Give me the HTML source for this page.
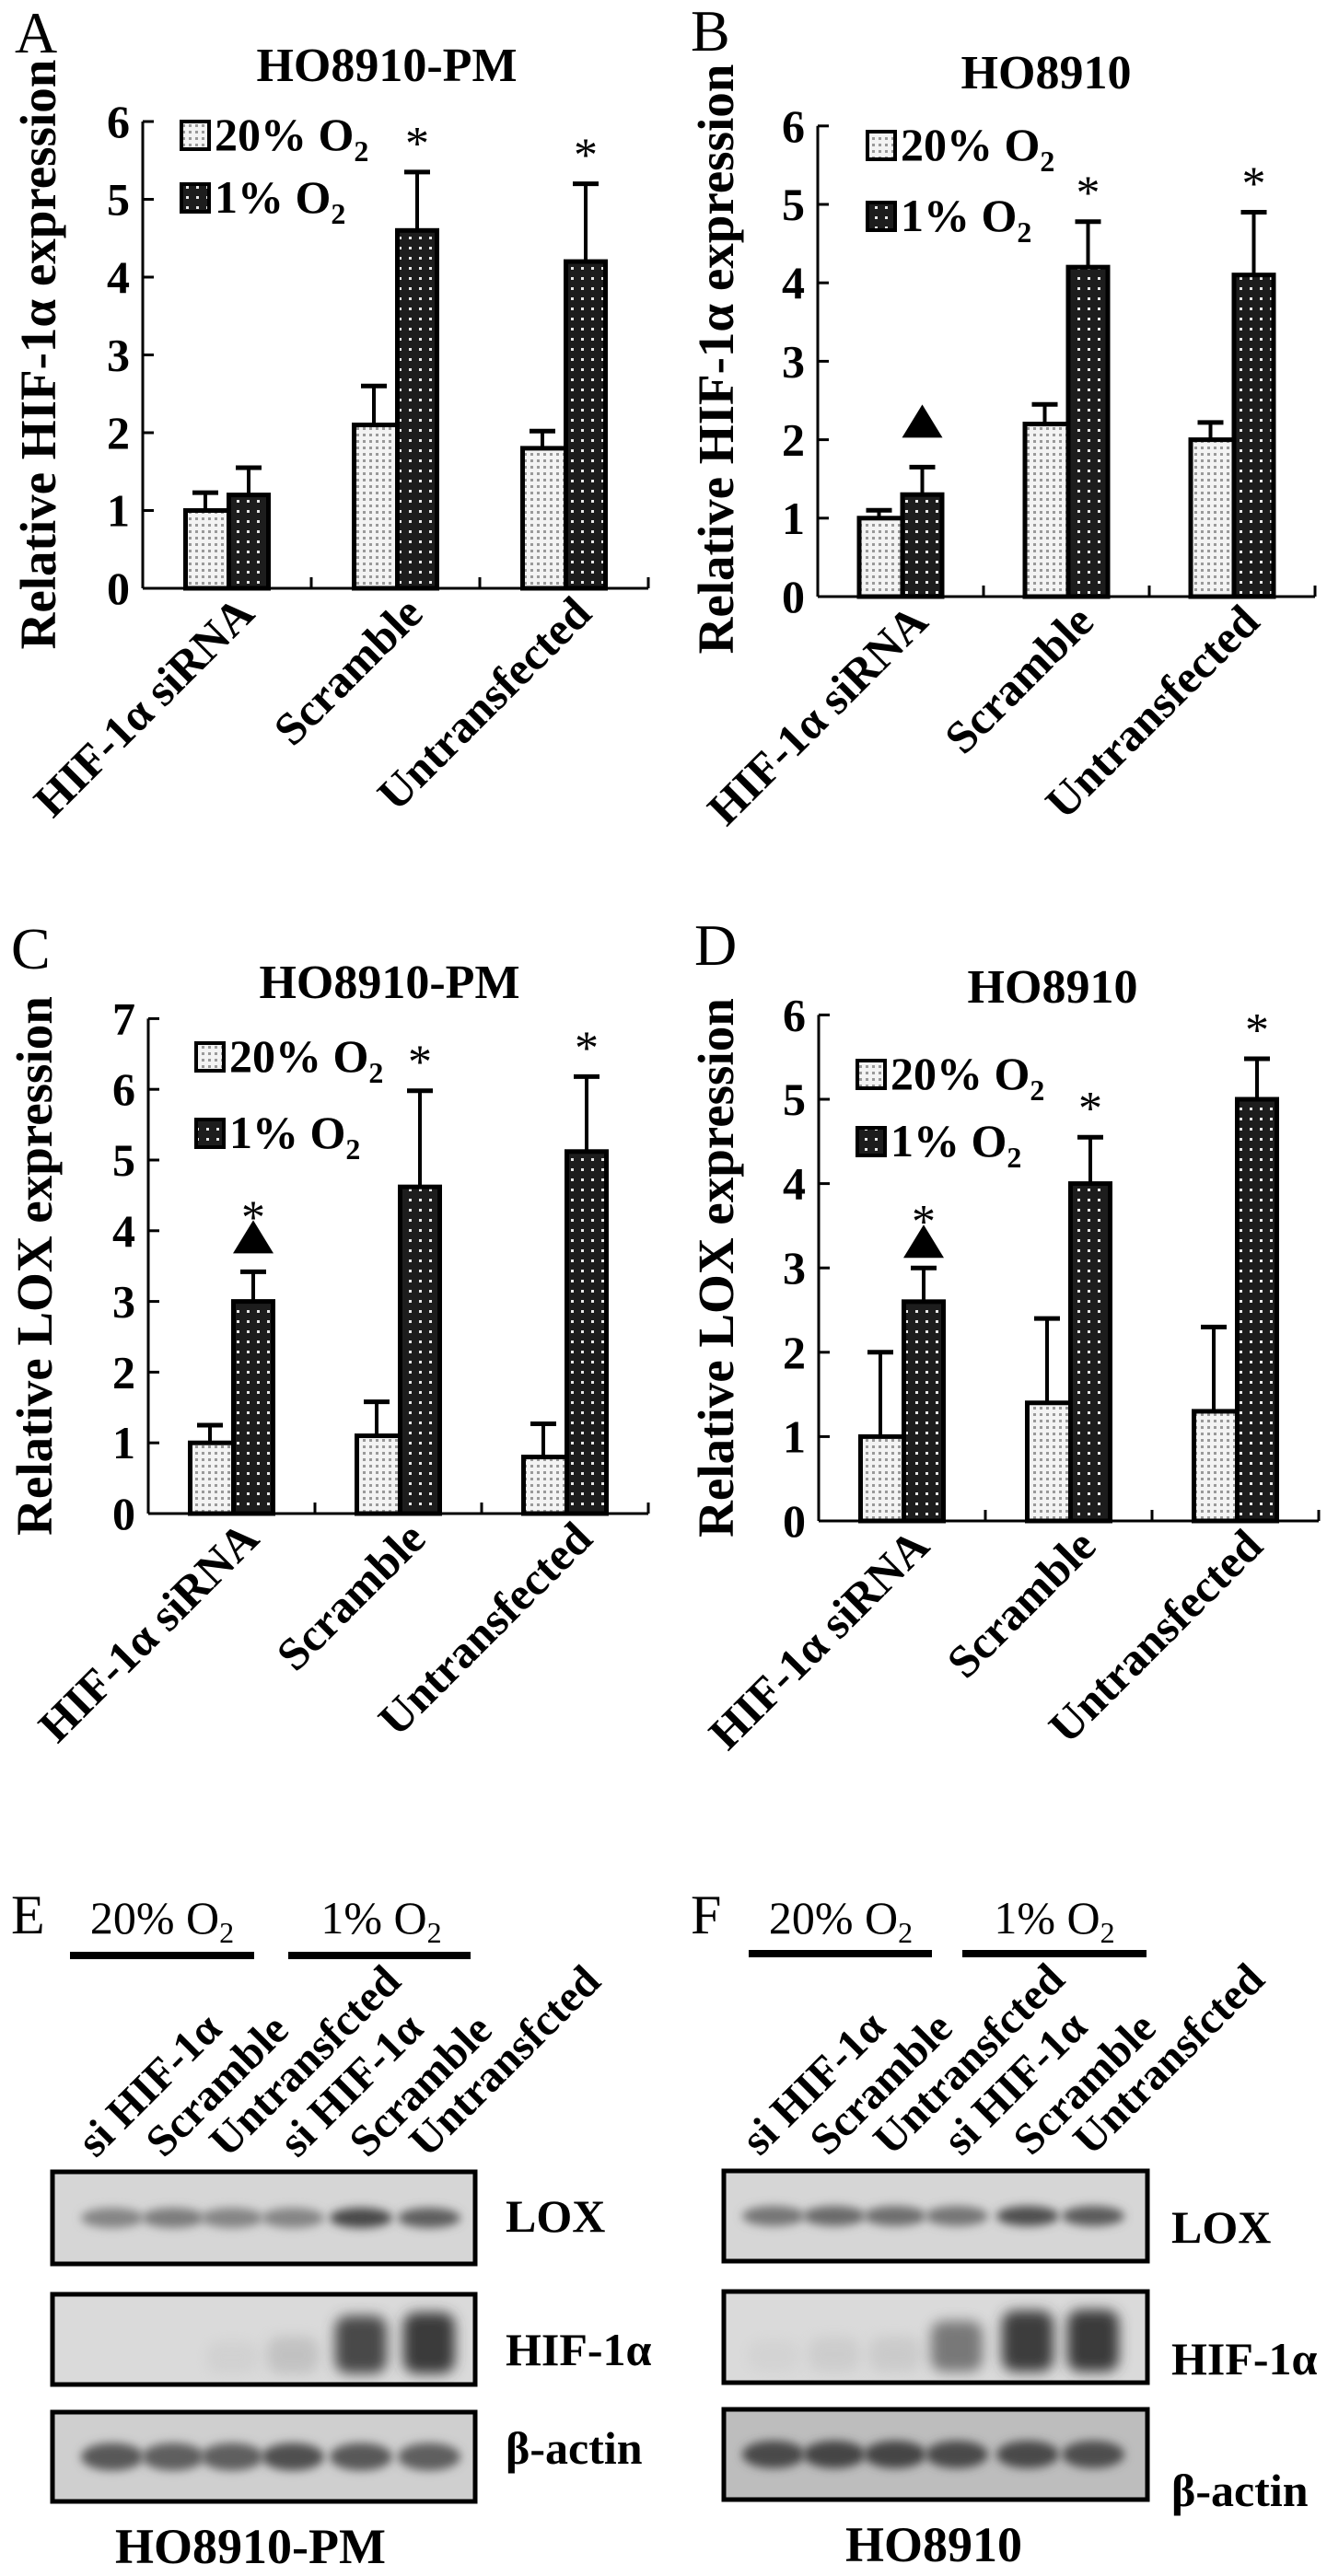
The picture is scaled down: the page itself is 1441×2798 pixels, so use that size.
<!DOCTYPE html>
<html><head><meta charset="utf-8"><title>HIF-1α / LOX figure</title>
<style>
html,body{margin:0;padding:0;background:#fff;}
svg{display:block;font-family:"Liberation Serif","DejaVu Serif",serif;}
text{font-family:"Liberation Serif","DejaVu Serif",serif;fill:#000;}
.b{font-weight:bold !important;}
</style></head>
<body>
<svg id="fig" width="1441" height="2798" viewBox="0 0 1441 2798" xmlns="http://www.w3.org/2000/svg" font-family="Liberation Serif, serif">
<defs>
<pattern id="pl" width="7" height="7" patternUnits="userSpaceOnUse"><rect width="7" height="7" fill="#f3f3f3"/><rect x="2" y="2" width="3" height="3" fill="#999"/></pattern>
<pattern id="pd" width="11" height="11" patternUnits="userSpaceOnUse"><rect width="11" height="11" fill="#1d1d1d"/><rect x="4" y="4" width="3" height="3" fill="#e6e6e6"/></pattern>
<filter id="bl" x="-30%" y="-100%" width="160%" height="300%"><feGaussianBlur stdDeviation="5"/></filter>
<filter id="bl2" x="-30%" y="-50%" width="160%" height="200%"><feGaussianBlur stdDeviation="7"/></filter>
</defs>
<rect width="1441" height="2798" fill="#fff"/>

<text x="16" y="57" font-size="64">A</text>
<text x="750" y="55" font-size="64">B</text>
<text x="12" y="1052" font-size="64">C</text>
<text x="754" y="1048" font-size="64">D</text>
<text x="12" y="2100" font-size="60">E</text>
<text x="750" y="2100" font-size="60">F</text>

<text class="b" x="420" y="88" font-size="52" text-anchor="middle">HO8910-PM</text>
<text class="b" x="1136" y="96" font-size="52" text-anchor="middle">HO8910</text>
<text class="b" x="423" y="1084" font-size="52" text-anchor="middle">HO8910-PM</text>
<text class="b" x="1143" y="1089" font-size="52" text-anchor="middle">HO8910</text>

<text class="b" font-size="55" text-anchor="middle" transform="translate(60,385) rotate(-90)">Relative  HIF-1α expression</text>
<text class="b" font-size="55" text-anchor="middle" transform="translate(796,390) rotate(-90)">Relative HIF-1α expression</text>
<text class="b" font-size="55" text-anchor="middle" transform="translate(56,1375) rotate(-90)">Relative LOX expression</text>
<text class="b" font-size="55" text-anchor="middle" transform="translate(796,1377) rotate(-90)">Relative LOX expression</text>

<g>
 <rect x="197" y="132" width="30" height="30" fill="url(#pl)" stroke="#000" stroke-width="4"/>
 <text class="b" x="233" y="163" font-size="50">20% O<tspan font-size="32" dy="12">2</tspan></text>
 <rect x="197" y="200" width="30" height="30" fill="url(#pd)" stroke="#000" stroke-width="4"/>
 <text class="b" x="233" y="231" font-size="50">1% O<tspan font-size="32" dy="12">2</tspan></text>
</g>
<g>
 <rect x="942" y="143" width="30" height="30" fill="url(#pl)" stroke="#000" stroke-width="4"/>
 <text class="b" x="978" y="174" font-size="50">20% O<tspan font-size="32" dy="12">2</tspan></text>
 <rect x="942" y="220" width="30" height="30" fill="url(#pd)" stroke="#000" stroke-width="4"/>
 <text class="b" x="978" y="251" font-size="50">1% O<tspan font-size="32" dy="12">2</tspan></text>
</g>
<g>
 <rect x="213" y="1133" width="30" height="30" fill="url(#pl)" stroke="#000" stroke-width="4"/>
 <text class="b" x="249" y="1164" font-size="50">20% O<tspan font-size="32" dy="12">2</tspan></text>
 <rect x="213" y="1216" width="30" height="30" fill="url(#pd)" stroke="#000" stroke-width="4"/>
 <text class="b" x="249" y="1247" font-size="50">1% O<tspan font-size="32" dy="12">2</tspan></text>
</g>
<g>
 <rect x="931" y="1152" width="30" height="30" fill="url(#pl)" stroke="#000" stroke-width="4"/>
 <text class="b" x="967" y="1183" font-size="50">20% O<tspan font-size="32" dy="12">2</tspan></text>
 <rect x="931" y="1225" width="30" height="30" fill="url(#pd)" stroke="#000" stroke-width="4"/>
 <text class="b" x="967" y="1256" font-size="50">1% O<tspan font-size="32" dy="12">2</tspan></text>
</g>

<g id="charts"></g>
<g id="blots"></g>

<text x="176" y="2100" font-size="50" text-anchor="middle">20% O<tspan font-size="32" dy="10">2</tspan></text>
<text x="414" y="2100" font-size="50" text-anchor="middle">1% O<tspan font-size="32" dy="10">2</tspan></text>
<rect x="76" y="2120" width="200" height="8" fill="#000"/>
<rect x="313" y="2120" width="198" height="8" fill="#000"/>
<text x="913" y="2100" font-size="50" text-anchor="middle">20% O<tspan font-size="32" dy="10">2</tspan></text>
<text x="1145" y="2100" font-size="50" text-anchor="middle">1% O<tspan font-size="32" dy="10">2</tspan></text>
<rect x="813" y="2118" width="199" height="8" fill="#000"/>
<rect x="1045" y="2118" width="200" height="8" fill="#000"/>

<text class="b" x="549" y="2424" font-size="50">LOX</text>
<text class="b" x="549" y="2569" font-size="50">HIF-1α</text>
<text class="b" x="549" y="2676" font-size="50">β-actin</text>
<text class="b" x="272" y="2784" font-size="54" text-anchor="middle">HO8910-PM</text>
<text class="b" x="1272" y="2436" font-size="50">LOX</text>
<text class="b" x="1272" y="2579" font-size="50">HIF-1α</text>
<text class="b" x="1272" y="2722" font-size="50">β-actin</text>
<text class="b" x="1014" y="2782" font-size="54" text-anchor="middle">HO8910</text>
</svg>

<script>
// ---- chart data ----
const categories = ['HIF-1α siRNA', 'Scramble', 'Untransfected'];
const yTicks6 = [0, 1, 2, 3, 4, 5, 6];
const yTicks7 = [0, 1, 2, 3, 4, 5, 6, 7];

const aNormoxia = [1.0, 2.1, 1.8];
const aNormoxiaErr = [0.23, 0.5, 0.22];
const aHypoxia = [1.2, 4.6, 4.2];
const aHypoxiaErr = [0.35, 0.75, 1.0];
const aStar = [0, 1, 1];
const aTriangle = [0, 0, 0];

const bNormoxia = [1.0, 2.2, 2.0];
const bNormoxiaErr = [0.1, 0.25, 0.22];
const bHypoxia = [1.3, 4.2, 4.1];
const bHypoxiaErr = [0.35, 0.58, 0.8];
const bStar = [0, 1, 1];
const bTriangle = [1, 0, 0];

const cNormoxia = [1.0, 1.1, 0.8];
const cNormoxiaErr = [0.25, 0.48, 0.47];
const cHypoxia = [3.0, 4.62, 5.12];
const cHypoxiaErr = [0.42, 1.36, 1.06];
const cStar = [1, 1, 1];
const cTriangle = [1, 0, 0];

const dNormoxia = [1.0, 1.4, 1.3];
const dNormoxiaErr = [1.0, 1.0, 1.0];
const dHypoxia = [2.6, 4.0, 5.0];
const dHypoxiaErr = [0.4, 0.55, 0.48];
const dStar = [1, 1, 1];
const dTriangle = [1, 0, 0];

const laneNames = ['si HIF-1α', 'Scramble', 'Untransfcted', 'si HIF-1α', 'Scramble', 'Untransfcted'];
const eLox = [0.45, 0.5, 0.45, 0.45, 0.85, 0.7];
const eHif = [0.0, 0.0, 0.05, 0.2, 0.85, 0.95];
const eActin = [0.75, 0.7, 0.7, 0.8, 0.75, 0.7];
const fLox = [0.55, 0.62, 0.6, 0.55, 0.8, 0.72];
const fHif = [0.02, 0.1, 0.12, 0.6, 0.92, 0.95];
const fActin = [0.85, 0.88, 0.88, 0.85, 0.85, 0.82];

const NS = 'http://www.w3.org/2000/svg';
function mk(tag, attrs, parent) {
  const el = document.createElementNS(NS, tag);
  for (const k in attrs) el.setAttribute(k, attrs[k]);
  parent.appendChild(el);
  return el;
}

function drawChart(id, L, ticks, nVals, nErr, hVals, hErr, stars, tris) {
  const root = document.getElementById('charts');
  const g = mk('g', {}, root);
  
  
  const yMax = ticks[ticks.length - 1];
  const yScale = v => L.y0 - v * L.unit;
  const xCenter = i => L.axisX + L.groupW * (i + 0.5);
  const xEnd = L.axisX + L.groupW * categories.length;
  const ya = mk('line', {x1: L.axisX, y1: yScale(yMax), x2: L.axisX, y2: L.y0, stroke: '#000', 'stroke-width': 3}, g);
  
  
  const xa = mk('line', {x1: L.axisX, y1: L.y0, x2: xEnd, y2: L.y0, stroke: '#000', 'stroke-width': 3}, g);
  
  
  ticks.forEach(t => {
    const y = yScale(t);
    const tk = mk('line', {x1: L.axisX, y1: y, x2: L.axisX + 12, y2: y, stroke: '#000', 'stroke-width': 3}, g);
    
    
    const tl = mk('text', {x: L.axisX - 14, y: y + 17, 'font-size': 50, class: 'b', 'text-anchor': 'end'}, g);
    tl.textContent = String(t);
    
    
  });
  for (let i = 1; i <= categories.length; i++) {
    const x = L.axisX + L.groupW * i;
    const xt = mk('line', {x1: x, y1: L.y0, x2: x, y2: L.y0 - 12, stroke: '#000', 'stroke-width': 3}, g);
    
    
  }
  const bw = 47;
  categories.forEach((cat, i) => {
    const c = xCenter(i);
    const series = [
      {v: nVals[i], e: nErr[i], x: c - bw, fill: 'url(#pl)'},
      {v: hVals[i], e: hErr[i], x: c, fill: 'url(#pd)'}
    ];
    series.forEach((s, k) => {
      const top = yScale(s.v);
      const errTop = yScale(s.v + s.e);
      const bx = s.x + bw / 2;
      const el = mk('line', {x1: bx, y1: top, x2: bx, y2: errTop, stroke: '#000', 'stroke-width': 4}, g);
      
      
      const cap = mk('line', {x1: bx - 14, y1: errTop, x2: bx + 14, y2: errTop, stroke: '#000', 'stroke-width': 5}, g);
      
      
      const r = mk('rect', {x: s.x + 2, y: top, width: bw - 4 + (k === 0 ? 4 : 0), height: L.y0 - top, fill: s.fill, stroke: '#000', 'stroke-width': 5}, g);
      
      
    });
    const hx = c + bw / 2;
    let markTop = yScale(hVals[i] + hErr[i]);
    if (tris[i]) {
      const bottom = markTop - L.triGap;
      const tri = mk('polygon', {points: `${hx - 22},${bottom} ${hx + 22},${bottom} ${hx},${bottom - 36}`, fill: '#000'}, g);
      
      
      markTop = bottom - 36 + 28;
    }
    if (stars[i]) {
      const st = mk('text', {x: hx, y: markTop - 40 + 26, 'font-size': 52, 'text-anchor': 'middle'}, g);
      st.textContent = '*';
      
      
    }
    const lx = c + 32, ly = L.y0 + 30;
    const lab = mk('text', {x: 0, y: 0, 'font-size': 50, class: 'b', 'text-anchor': 'end', transform: `translate(${lx},${ly}) rotate(-45)`}, g);
    lab.textContent = cat;
    
    
  });
}

drawChart('a', {axisX: 155, y0: 639, unit: 84.5, groupW: 183, triGap: 20}, yTicks6, aNormoxia, aNormoxiaErr, aHypoxia, aHypoxiaErr, aStar, aTriangle);
drawChart('b', {axisX: 888, y0: 648, unit: 85.2, groupW: 180, triGap: 32}, yTicks6, bNormoxia, bNormoxiaErr, bHypoxia, bHypoxiaErr, bStar, bTriangle);
drawChart('c', {axisX: 161, y0: 1644, unit: 76.8, groupW: 181, triGap: 20}, yTicks7, cNormoxia, cNormoxiaErr, cHypoxia, cHypoxiaErr, cStar, cTriangle);
drawChart('d', {axisX: 889, y0: 1652, unit: 91.6, groupW: 181, triGap: 11}, yTicks6, dNormoxia, dNormoxiaErr, dHypoxia, dHypoxiaErr, dStar, dTriangle);

function drawBlot(B, lox, hif, actin) {
  const root = document.getElementById('blots');
  const g = mk('g', {}, root);
  
  
  const rows = [
    {y: B.loxY, h: B.loxH, bg: '#d6d6d6', vals: lox, kind: 'lox'},
    {y: B.hifY, h: B.hifH, bg: '#dadada', vals: hif, kind: 'hif'},
    {y: B.actY, h: B.actH, bg: B.actBg, vals: actin, kind: 'actin'}
  ];
  rows.forEach(row => {
    const box = mk('rect', {x: B.x, y: row.y, width: B.w, height: row.h, fill: row.bg, stroke: '#000', 'stroke-width': 5}, g);
    
    
    row.vals.forEach((v, i) => {
      if (v <= 0) return;
      const cx = B.lanes[i];
      const shade = Math.round(200 - v * 150);
      let band;
      if (row.kind === 'hif') {
        band = mk('rect', {x: cx - 28, y: row.y + 18 + (1 - v) * 35, width: 56, height: row.h - 30 - (1 - v) * 35, rx: 14, fill: `rgb(${shade},${shade},${shade})`, filter: 'url(#bl2)', opacity: Math.min(1, v + 0.3)}, g);
      } else {
        const cy = row.y + row.h * 0.5;
        band = mk('ellipse', {cx: cx, cy: cy, rx: 34, ry: row.kind === 'actin' ? 15 : 11, fill: `rgb(${shade},${shade},${shade})`, filter: 'url(#bl)'}, g);
      }
      
      
    });
  });
  laneNames.forEach((n, i) => {
    const t = mk('text', {x: 0, y: 0, 'font-size': 48, class: 'b', transform: `translate(${B.labelX[i]},${B.labelY}) rotate(-45)`}, g);
    t.textContent = n;
    
    
  });
}

drawBlot({x: 57, w: 459, loxY: 2359, loxH: 100, hifY: 2492, hifH: 98, actY: 2620, actH: 97, actBg: '#cfcfcf',
  lanes: [122, 188, 252, 318, 392, 466], labelX: [104, 178, 247, 323, 399, 464], labelY: 2345}, eLox, eHif, eActin);
drawBlot({x: 786, w: 460, loxY: 2358, loxH: 98, hifY: 2489, hifH: 99, actY: 2617, actH: 98, actBg: '#bdbdbd',
  lanes: [840, 906, 972, 1039, 1116, 1187], labelX: [825, 899, 968, 1044, 1120, 1185], labelY: 2343}, fLox, fHif, fActin);
</script>
</body></html>
